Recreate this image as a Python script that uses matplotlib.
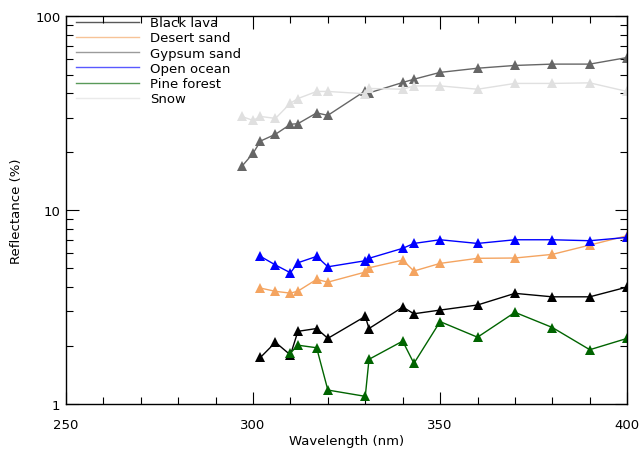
import numpy as np
import matplotlib
matplotlib.use("Agg")
import matplotlib.pyplot as plt
from matplotlib.ticker import LogLocator, MultipleLocator, FixedLocator, FixedFormatter, NullFormatter

# Data
wl_a = [302, 306, 310, 312, 317, 320, 330, 331, 340, 343, 350, 360, 370, 380, 390, 400]
wl_pine = [310, 312, 317, 320, 330, 331, 340, 343, 350, 360, 370, 380, 390, 400]
wl_b = [297, 300, 302, 306, 310, 312, 317, 320, 330, 331, 340, 343, 350, 360, 370, 380, 390, 400]

black_lava = [1.74, 2.08, 1.79, 2.37, 2.45, 2.18, 2.83, 2.45, 3.16, 2.92, 3.05, 3.24, 3.72, 3.57, 3.57, 4.01]
desert_sand = [3.96, 3.81, 3.73, 3.82, 4.39, 4.25, 4.79, 5.04, 5.52, 4.85, 5.31, 5.64, 5.66, 5.91, 6.60, 7.38]
open_ocean = [5.77, 5.21, 4.75, 5.35, 5.77, 5.10, 5.48, 5.64, 6.35, 6.73, 7.03, 6.73, 7.03, 7.03, 6.95, 7.23]
pine_forest = [1.83, 2.01, 1.95, 1.18, 1.095, 1.70, 2.11, 1.62, 2.66, 2.21, 2.97, 2.48, 1.905, 2.18]
gypsum_sand = [16.8, 19.6, 22.7, 24.6, 27.7, 27.9, 31.7, 30.8, 41.2, 40.2, 45.5, 47.3, 51.3, 53.9, 55.7, 56.6, 56.6, 61.2]
snow = [30.4, 29.0, 30.4, 29.7, 35.6, 37.6, 40.9, 40.9, 39.8, 42.4, 42.0, 43.7, 43.7, 42.0, 45.0, 45.0, 45.3, 40.9]

series = [
    ("Black lava", wl_a, black_lava, "#000000"),
    ("Desert sand", wl_a, desert_sand, "#F4A460"),
    ("Gypsum sand", wl_b, gypsum_sand, "#666666"),
    ("Open ocean", wl_a, open_ocean, "#0000FF"),
    ("Pine forest", wl_pine, pine_forest, "#006400"),
    ("Snow", wl_b, snow, "#E0E0E0"),
]

plt.rcParams['font.family'] = ['DejaVu Sans']
fig = plt.figure(figsize=(6.4, 4.52), dpi=100)
ax = fig.add_axes([0.103, 0.104, 0.877, 0.858])

for name, x, y, c in series:
    ax.plot(x, y, color=c, lw=1.0, marker='^', ms=6.5, mec=c, mew=0, label=name)

ax.set_yscale('log')
ax.set_xlim(250, 400)
ax.set_ylim(1, 100)

ax.xaxis.set_major_locator(MultipleLocator(50))
ax.xaxis.set_minor_locator(MultipleLocator(10))
ax.yaxis.set_major_locator(FixedLocator([1, 10, 100]))
ax.yaxis.set_major_formatter(FixedFormatter(['1', '10', '100']))
ax.yaxis.set_minor_locator(LogLocator(base=10, subs=np.arange(2, 10)))
ax.yaxis.set_minor_formatter(NullFormatter())

ax.tick_params(which='both', direction='in', top=True, right=True, labelsize=9.5, width=0.8)
ax.tick_params(which='major', length=9)
ax.tick_params(which='minor', length=5)
ax.tick_params(axis='x', which='major', pad=10)
ax.tick_params(axis='y', which='major', pad=4)
for s in ax.spines.values():
    s.set_linewidth(1.0)

ax.set_xlabel('Wavelength (nm)', fontsize=9.5, labelpad=2)
ax.set_ylabel('Reflectance (%)', fontsize=9.5, labelpad=9)

leg = ax.legend(loc='upper left', frameon=False, fontsize=9.5, handlelength=4.8,
                handletextpad=0.8, labelspacing=0.17, borderaxespad=0, borderpad=0,
                bbox_to_anchor=(0.018, 1.0))
for h in leg.get_lines():
    h.set_marker('')
    h.set_alpha(0.65)

fig.savefig('out.png', dpi=100)
